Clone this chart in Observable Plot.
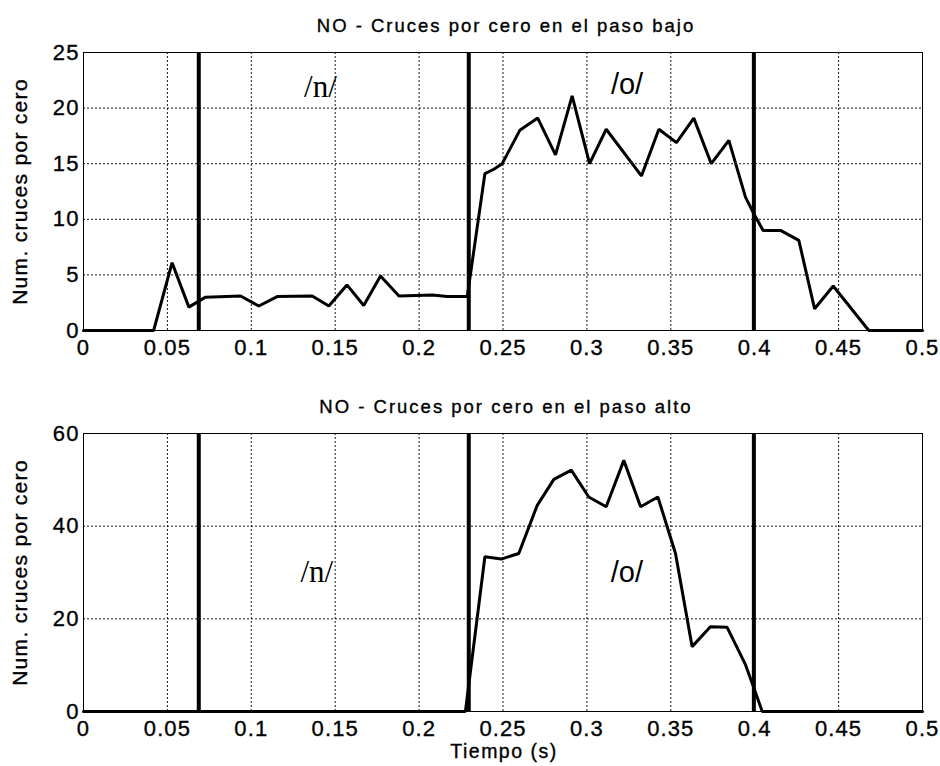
<!DOCTYPE html>
<html>
<head>
<meta charset="utf-8">
<script src="https://cdn.jsdelivr.net/npm/d3@7"></script>
<script src="https://cdn.jsdelivr.net/npm/@observablehq/plot@0.6"></script>
<style>
  html, body { margin: 0; padding: 0; background: #fff; }
  #chart svg { display: block; }
  #chart text { fill: #000; }
</style>
</head>
<body>
<div id="chart"></div>
<script>
// ---- data ----
const xTicks = [0, 0.05, 0.1, 0.15, 0.2, 0.25, 0.3, 0.35, 0.4, 0.45, 0.5];
const xTickLabels = ["0", "0.05", "0.1", "0.15", "0.2", "0.25", "0.3", "0.35", "0.4", "0.45", "0.5"];

const lowYTicks = [0, 5, 10, 15, 20, 25];
const lowYTickLabels = ["0", "5", "10", "15", "20", "25"];
const highYTicks = [0, 20, 40, 60];
const highYTickLabels = ["0", "20", "40", "60"];

const lowTime = [0, 0.0418, 0.0528, 0.0628, 0.0727, 0.0936, 0.1045, 0.1154, 0.1363, 0.1462, 0.157, 0.167, 0.177, 0.188, 0.2078, 0.2167, 0.2287, 0.2392, 0.2445, 0.2495, 0.26, 0.2707, 0.2813, 0.2912, 0.3016, 0.3115, 0.3325, 0.3429, 0.3534, 0.3637, 0.3741, 0.3846, 0.3945, 0.3995, 0.405, 0.4154, 0.4263, 0.4357, 0.4468, 0.468, 0.5];
const lowCount = [0, 0, 6.1, 2.1, 3.0, 3.1, 2.2, 3.05, 3.1, 2.2, 4.1, 2.25, 4.9, 3.1, 3.2, 3.05, 3.05, 14.1, 14.5, 15.0, 18.0, 19.1, 15.8, 21.1, 15.0, 18.1, 13.9, 18.1, 16.9, 19.1, 15.0, 17.1, 12.0, 10.5, 9.0, 9.0, 8.1, 1.95, 4.0, 0, 0];

const highTime = [0, 0.2276, 0.2392, 0.249, 0.2594, 0.2704, 0.2803, 0.2907, 0.3011, 0.3115, 0.322, 0.332, 0.3423, 0.3528, 0.3627, 0.3736, 0.3835, 0.3945, 0.3985, 0.4045, 0.5];
const highCount = [0, 0, 33.4, 32.9, 34.1, 44.5, 50.1, 52.1, 46.3, 44.2, 54.2, 44.2, 46.3, 34.1, 14.0, 18.3, 18.2, 10.1, 6.1, 0, 0];

const boundaries = [0.0687, 0.2296, 0.3995];

const phonemes = ["/n/", "/o/"];
const phonemeFonts = ["Liberation Serif, Times New Roman, serif", "Liberation Sans, Arial, sans-serif"];
const lowPhonemeX = [0.1412, 0.3239];
const lowPhonemeY = [21.0, 21.25];
const highPhonemeX = [0.139, 0.3238];
const highPhonemeY = [28.0, 28.0];

const titles = ["NO - Cruces por cero en el paso bajo", "NO - Cruces por cero en el paso alto"];
const yLabel = "Num. cruces por cero";
const xLabel = "Tiempo (s)";

// ---- drawing ----
const SANS = "Liberation Sans, Arial, Helvetica, sans-serif";

function panel({time, count, yTicks, yTickLabels, yMax, phX, phY, title, height, marginTop, marginBottom, showXLabel}) {
  const series = time.map((t, i) => ({t, n: count[i]}));
  const ph = phonemes.map((p, i) => ({p, x: phX[i], y: phY[i]}));
  const grid = {stroke: "#000", strokeOpacity: 0.9, strokeWidth: 1, strokeDasharray: "2,2"};
  const marks = [
    Plot.gridX(xTicks.slice(1, -1), grid),
    Plot.gridY(yTicks.slice(1, -1), grid),
    Plot.line(series, {x: "t", y: "n", stroke: "#000", strokeWidth: 3, strokeLinejoin: "miter"}),
    Plot.ruleX(boundaries, {stroke: "#000", strokeWidth: 4}),
    Plot.frame({stroke: "#000", strokeWidth: 1}),
    Plot.axisX(xTicks, {tickSize: 0, tickPadding: 9, fontSize: 22, label: null,
      tickFormat: d => xTickLabels[xTicks.indexOf(d)]}),
    Plot.axisY(yTicks, {tickSize: 0, tickPadding: 4, fontSize: 22, label: null,
      tickFormat: d => yTickLabels[yTicks.indexOf(d)]}),
    Plot.axisY({ticks: [], tickSize: 0, fontSize: 21, label: yLabel,
      labelAnchor: "center", labelOffset: 71, labelArrow: "none"}),
    Plot.text(ph.slice(0, 1), {x: "x", y: "y", text: "p", fontSize: 31, lineAnchor: "bottom",
      fontFamily: phonemeFonts[0], fill: "#000"}),
    Plot.text(ph.slice(1, 2), {x: "x", y: "y", text: "p", fontSize: 29, lineAnchor: "bottom",
      fontFamily: phonemeFonts[1], fill: "#000"}),
    Plot.text([title], {frameAnchor: "top", dy: -20.3, dx: 3, lineAnchor: "bottom", fontSize: 18.5,
      fill: "#000"})
  ];
  if (showXLabel) {
    marks.push(Plot.text([xLabel], {frameAnchor: "bottom", dy: 46, dx: 1, lineAnchor: "bottom", fontSize: 19.5,
      fill: "#000"}));
  }
  const svg = Plot.plot({
    width: 940,
    height,
    marginLeft: 83,
    marginRight: 18,
    marginTop,
    marginBottom,
    style: {fontFamily: SANS, background: "#fff", color: "#000"},
    x: {domain: [0, 0.5]},
    y: {domain: [0, yMax]},
    marks
  });
  // emulate the wide, heavy lettering of the scanned original
  const tickSet = new Set([...xTickLabels, ...yTickLabels]);
  svg.querySelectorAll("text").forEach(el => {
    const s = el.textContent;
    let ls = null;
    if (titles.includes(s)) ls = "2px";
    else if (s === yLabel) ls = "1.3px";
    else if (s === xLabel) ls = "1.5px";
    else if (tickSet.has(s)) ls = "1.1px";
    if (ls) {
      el.style.letterSpacing = ls;
      el.style.stroke = "#000";
      el.style.strokeWidth = "0.35px";
    }
  });
  return svg;
}

const chart = document.getElementById("chart");
chart.appendChild(panel({
  time: lowTime, count: lowCount, yTicks: lowYTicks, yTickLabels: lowYTickLabels, yMax: 25,
  phX: lowPhonemeX, phY: lowPhonemeY, title: titles[0],
  height: 380, marginTop: 52, marginBottom: 50, showXLabel: false
}));
chart.appendChild(panel({
  time: highTime, count: highCount, yTicks: highYTicks, yTickLabels: highYTickLabels, yMax: 60,
  phX: highPhonemeX, phY: highPhonemeY, title: titles[1],
  height: 386, marginTop: 53, marginBottom: 55, showXLabel: true
}));
</script>
</body>
</html>
